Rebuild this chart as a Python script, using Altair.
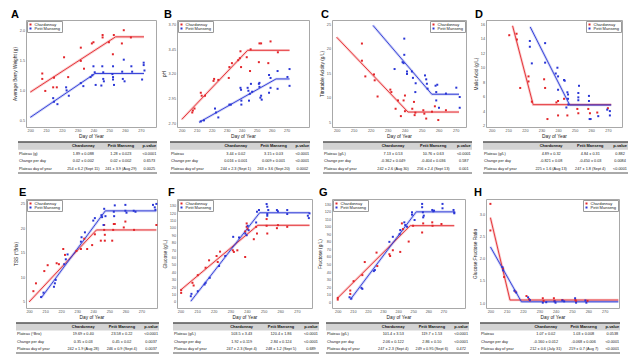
import altair as alt
import pandas as pd

FONT = "Liberation Sans"
RED = "#e3262b"
BLUE = "#2a36d6"
VARIETIES = ["Chardonnay", "Petit Manseng"]
X_TICKS = [200, 210, 220, 230, 240, 250, 260, 270]

# ---------------- Panel A: berry weight ----------------
A_ch_day = [207.6, 207.6, 209.5, 214.5, 216.8, 215.0, 221.4, 224.0, 232.0, 232.0, 234.0, 239.0, 240.0, 245.8, 245.8, 249.8, 252.3, 252.9, 258.0, 259.2, 263.7]
A_ch_val = [1.28, 1.19, 0.99, 1.05, 1.05, 1.21, 1.55, 1.22, 1.71, 1.49, 1.36, 1.78, 1.80, 1.92, 1.88, 1.80, 1.60, 1.92, 1.78, 2.00, 1.88]
A_pm_day = [214.5, 215.0, 217.2, 222.7, 223.0, 224.4, 232.0, 233.6, 238.2, 239.3, 240.0, 240.8, 241.4, 245.0, 245.6, 246.2, 246.2, 246.6, 252.0, 252.4, 252.4, 252.4, 253.0, 258.2, 258.6, 259.2, 259.7, 264.0, 264.5, 271.8, 271.8, 272.3, 270.8]
A_pm_val = [0.87, 0.81, 0.77, 1.05, 1.00, 0.91, 1.12, 1.07, 1.22, 1.25, 1.40, 1.30, 1.09, 1.08, 1.40, 1.30, 1.19, 1.15, 1.27, 1.40, 1.22, 1.18, 1.09, 1.31, 1.19, 1.51, 1.15, 1.40, 1.31, 1.46, 1.42, 1.33, 1.18]
A_ch_fit_day = [200, 254, 272]
A_ch_fit_val = [0.97, 1.89, 1.89]
A_pm_fit_day = [200, 241, 272]
A_pm_fit_val = [0.55, 1.28, 1.28]

# ---------------- Panel B: pH ----------------
B_ch_day = [207.0, 207.4, 208.5, 212.7, 213.3, 215.5, 221.2, 221.6, 224.4, 231.4, 231.8, 233.5, 237.7, 238.8, 239.2, 239.6, 243.4, 245.6, 246.0, 251.9, 253.0, 251.5, 257.8, 259.3, 264.2]
B_ch_val = [2.81, 2.83, 2.85, 3.01, 2.98, 2.98, 3.13, 3.15, 3.14, 3.16, 3.27, 3.31, 3.34, 3.36, 3.43, 3.27, 3.37, 3.23, 3.45, 3.51, 3.51, 3.32, 3.31, 3.53, 3.42]
B_pm_day = [212.7, 214.8, 222.2, 222.9, 224.4, 231.8, 232.8, 239.2, 239.6, 239.8, 239.8, 244.0, 244.5, 244.9, 246.2, 247.0, 245.5, 251.5, 251.9, 251.9, 252.5, 253.0, 253.4, 258.3, 259.3, 258.3, 259.3, 264.0, 264.0, 270.6, 272.0, 272.0]
B_pm_val = [2.72, 2.73, 2.85, 2.81, 2.76, 2.89, 2.89, 3.06, 3.04, 2.93, 2.89, 3.06, 3.03, 2.93, 3.10, 3.02, 3.00, 3.10, 3.07, 3.11, 2.96, 2.98, 2.94, 3.19, 3.16, 3.01, 3.06, 3.23, 3.05, 3.17, 3.25, 3.08]
B_ch_fit_day = [200, 244, 272]
B_ch_fit_val = [2.74, 3.44, 3.44]
B_pm_fit_day = [211.5, 263, 272]
B_pm_fit_val = [2.71, 3.15, 3.15]

# ---------------- Panel C: titratable acidity ----------------
C_ch_day = [214.9, 214.9, 216.9, 222.0, 222.4, 224.1, 231.6, 232.2, 234.7, 236.1, 237.8, 239.4, 240.2, 240.2, 244.5, 245.5, 245.9, 246.3, 251.0, 251.6, 252.7, 256.1, 257.8, 259.8, 264.3]
C_ch_val = [21.1, 17.6, 14.4, 14.8, 13.6, 10.3, 11.7, 11.2, 7.8, 9.5, 6.3, 9.5, 10.5, 7.3, 7.8, 9.2, 6.5, 7.0, 7.5, 6.8, 5.8, 7.2, 8.3, 5.5, 7.5]
C_pm_day = [239.8, 239.8, 238.8, 239.4, 234.1, 241.4, 241.4, 244.3, 244.9, 246.5, 246.3, 252.0, 252.7, 253.1, 253.5, 258.2, 259.2, 258.6, 260.2, 264.3, 270.4, 272.4, 272.4, 258.6]
C_pm_val = [22.1, 18.8, 17.3, 17.1, 15.9, 15.4, 14.9, 15.4, 14.1, 13.0, 11.2, 14.6, 13.8, 12.9, 11.9, 12.5, 12.7, 9.5, 8.0, 10.9, 12.1, 10.2, 8.0, 11.2]
C_ch_fit_day = [200, 242, 272]
C_ch_fit_val = [22.4, 7.13, 7.13]
C_pm_fit_day = [221.4, 256, 272]
C_pm_fit_val = [24.8, 10.76, 10.76]

# ---------------- Panel D: malic acid ----------------
D_ch_day = [210.6, 215.0, 215.2, 217.2, 222.2, 222.2, 224.2, 231.6, 232.2, 233.6, 239.0, 240.0, 240.0, 243.6, 245.6, 251.6, 252.2, 258.2, 259.2, 263.6, 270.0]
D_ch_val = [14.5, 14.7, 13.9, 7.2, 8.8, 8.1, 5.3, 8.4, 7.2, 2.9, 5.2, 5.4, 3.4, 5.7, 3.4, 4.3, 3.7, 4.3, 3.7, 3.8, 4.4]
D_pm_day = [223.0, 223.0, 224.2, 232.2, 232.2, 238.6, 239.6, 240.0, 240.0, 243.6, 244.0, 245.0, 245.6, 246.0, 246.0, 252.6, 252.2, 252.2, 252.2, 258.6, 258.6, 259.0, 259.6, 264.2, 269.6, 271.2, 271.2, 246.2]
D_pm_val = [13.7, 12.9, 10.6, 13.4, 10.7, 9.2, 10.0, 6.95, 8.8, 8.3, 8.2, 4.5, 6.6, 6.3, 5.7, 7.5, 6.5, 5.9, 5.5, 6.1, 5.4, 2.9, 2.9, 3.3, 4.2, 3.4, 4.0, 4.9]
D_ch_fit_day = [212.6, 225, 272]
D_ch_fit_val = [15.8, 4.89, 4.89]
D_pm_fit_day = [223.2, 247, 272]
D_pm_fit_val = [15.65, 4.84, 4.84]

# ---------------- Panel E: TSS ----------------
E_ch_day = [202.7, 204.3, 211.6, 209.5, 217.2, 218.6, 221.3, 222.4, 229.5, 232.3, 234.4, 236.2, 239.3, 241.0, 244.7, 246.8, 246.8, 247.2, 247.2, 251.8, 252.4, 252.8, 253.4, 260.0, 259.0, 265.4, 279.3]
E_ch_val = [7.2, 8.8, 12.5, 11.3, 12.9, 12.7, 15.8, 14.6, 15.4, 15.8, 17.9, 15.8, 16.6, 18.8, 17.5, 19.7, 20.7, 18.7, 17.5, 17.5, 19.7, 20.9, 20.9, 21.4, 20.2, 19.7, 20.7]
E_pm_day = [207.5, 209.0, 215.5, 216.1, 216.6, 221.9, 222.9, 224.0, 232.3, 232.7, 234.8, 240.0, 241.0, 245.1, 245.5, 246.4, 246.8, 247.6, 252.8, 253.0, 253.4, 260.0, 260.0, 260.7, 265.2, 266.3, 277.2, 278.3, 278.7, 279.3]
E_pm_val = [6.0, 6.9, 8.1, 8.8, 9.5, 12.7, 13.7, 14.7, 17.3, 18.2, 19.2, 21.6, 22.1, 22.7, 22.3, 20.7, 24.0, 22.5, 23.4, 22.5, 24.7, 24.8, 23.6, 23.2, 23.6, 23.4, 24.8, 24.3, 23.8, 25.0]
E_ch_fit_day = [200, 242, 279.3]
E_ch_fit_val = [5.0, 19.69, 19.69]
E_pm_fit_day = [207.5, 247.5, 279.3]
E_pm_fit_val = [5.8, 23.58, 23.58]

# ---------------- Panel F: glucose ----------------
F_ch_day = [200.4, 200.4, 207.2, 207.9, 210.4, 215.1, 217.2, 221.7, 222.4, 223.8, 231.5, 232.1, 234.2, 238.9, 238.9, 239.8, 239.8, 240.4, 244.1, 246.0, 245.5, 251.8, 251.8, 252.2, 258.0, 258.6, 264.2]
F_ch_val = [15.9, 12.2, 25.8, 22.2, 36.2, 46.2, 56.2, 62.0, 53.9, 67.9, 69.7, 67.5, 69.7, 60.7, 95.1, 106.0, 101.4, 98.3, 84.7, 92.4, 101.4, 102.8, 111.9, 92.4, 99.6, 103.7, 101.4]
F_pm_day = [206.2, 206.6, 210.4, 214.5, 215.1, 217.6, 223.2, 226.9, 231.7, 235.2, 239.0, 239.8, 240.4, 241.0, 245.5, 246.0, 247.2, 251.8, 252.2, 252.8, 252.2, 252.2, 258.0, 258.6, 264.2, 264.2, 276.6, 277.2, 277.6]
F_pm_val = [7.7, 10.9, 14.5, 23.6, 25.8, 32.6, 48.5, 62.0, 87.9, 87.0, 92.4, 90.1, 102.8, 96.9, 107.3, 121.8, 124.1, 132.2, 128.6, 124.1, 118.7, 116.4, 124.1, 122.3, 124.1, 118.7, 116.4, 113.2, 119.6]
F_ch_fit_day = [200, 246.5, 277.6]
F_ch_fit_val = [15.9, 103.5, 103.5]
F_pm_fit_day = [206.2, 247.6, 277.6]
F_pm_fit_val = [0.9, 120.4, 120.4]

# ---------------- Panel G: fructose ----------------
G_ch_day = [200.0, 200.0, 208.3, 208.3, 210.5, 216.3, 217.9, 225.7, 226.2, 234.2, 234.7, 236.5, 241.4, 242.5, 243.2, 247.0, 249.9, 255.9, 256.6, 262.6, 262.8, 268.7]
G_ch_val = [5.8, 3.6, 11.1, 15.6, 28.0, 36.0, 53.3, 65.8, 48.0, 63.6, 61.3, 68.9, 66.7, 104.4, 96.9, 80.4, 101.3, 92.4, 104.4, 105.8, 101.3, 103.6]
G_pm_day = [207.8, 209.0, 215.7, 216.3, 223.9, 224.6, 234.2, 236.5, 241.0, 241.4, 244.1, 244.7, 245.9, 249.2, 249.2, 250.9, 255.9, 255.9, 256.4, 257.0, 256.6, 262.6, 263.3, 263.8, 269.4, 269.4, 276.7, 277.2, 277.2]
G_pm_val = [6.7, 4.9, 19.1, 17.8, 41.3, 42.7, 80.0, 86.7, 90.2, 95.6, 105.8, 102.2, 100.0, 119.1, 116.0, 108.9, 130.2, 125.8, 119.1, 114.7, 112.4, 122.2, 120.4, 121.3, 130.2, 124.4, 122.2, 119.1, 117.8]
G_ch_fit_day = [200, 248, 277.2]
G_ch_fit_val = [5.8, 101.4, 101.4]
G_pm_fit_day = [208.3, 252, 277.2]
G_pm_fit_val = [3.6, 119.7, 119.7]

# ---------------- Panel H: glucose:fructose ratio ----------------
H_ch_day = [200.0, 200.0, 207.8, 208.4, 215.3, 222.1, 223.7, 232.1, 232.6, 238.9, 239.3, 244.1, 252.1, 252.5, 259.5, 224.2]
H_ch_val = [3.24, 2.64, 1.78, 1.59, 1.26, 1.16, 1.09, 1.11, 1.05, 1.11, 1.05, 1.07, 1.07, 1.04, 1.05, 1.06]
H_pm_day = [207.4, 207.8, 214.7, 215.8, 223.1, 224.2, 232.1, 234.2, 239.3, 239.9, 244.1, 245.2, 251.9, 252.5, 258.2, 258.8]
H_pm_val = [1.81, 1.74, 1.28, 1.24, 1.13, 1.07, 1.01, 1.02, 1.04, 1.01, 1.06, 1.04, 1.11, 1.01, 1.06, 1.01]
H_ch_fit_day = [200, 212, 278.4]
H_ch_fit_val = [2.93, 1.07, 1.07]
H_pm_fit_day = [200, 219, 278.4]
H_pm_fit_val = [2.27, 1.03, 1.03]

# ---------------- Tables ----------------
TABLE_HEADER = ["Chardonnay", "Petit Manseng", "p-value"]
ROW_LABELS_A = ["Plateau (g)", "Change per day", "Plateau day of year"]
A_ch_txt = ["1.89 ± 0.088", "0.02 ± 0.002", "254 ± 6.2 (Sept 11)"]
A_pm_txt = ["1.28 ± 0.023", "0.02 ± 0.002", "241 ± 3.9 (Aug 29)"]
A_p_txt = ["<0.0001", "0.6573", "0.0025"]
ROW_LABELS_B = ["Plateau", "Change per day", "Plateau day of year"]
B_ch_txt = ["3.44 ± 0.02", "0.016 ± 0.001", "244 ± 2.3 (Sept 1)"]
B_pm_txt = ["3.15 ± 0.03", "0.009 ± 0.001", "263 ± 3.6 (Sept 20)"]
B_p_txt = ["<0.0001", "<0.0001", "0.0002"]
ROW_LABELS_C = ["Plateau (g/L)", "Change per day", "Plateau day of year"]
C_ch_txt = ["7.13 ± 0.53", "-0.362 ± 0.049", "242 ± 2.6 (Aug 30)"]
C_pm_txt = ["10.76 ± 0.63", "-0.404 ± 0.036", "256 ± 2.4 (Sept 13)"]
C_p_txt = ["<0.0001", "0.587", "0.001"]
ROW_LABELS_D = ["Plateau (g/L)", "Change per day", "Plateau day of year"]
D_ch_txt = ["4.89 ± 0.32", "-0.821 ± 0.08", "225 ± 1.6 (Aug 13)"]
D_pm_txt = ["4.84 ± 0.31", "-0.450 ± 0.03", "247 ± 1.8 (Sept 4)"]
D_p_txt = ["0.882", "0.0084", "<0.0001"]
ROW_LABELS_E = ["Plateau (°Brix)", "Change per day", "Plateau day of year"]
E_ch_txt = ["19.69 ± 0.40", "0.35 ± 0.03", "242 ± 1.9 (Aug 28)"]
E_pm_txt = ["23.58 ± 0.22", "0.45 ± 0.02", "246 ± 0.9 (Sept 4)"]
E_p_txt = ["<0.0001", "0.0037", "0.0037"]
ROW_LABELS_F = ["Plateau (g/L)", "Change per day", "Plateau day of year"]
F_ch_txt = ["103.5 ± 3.43", "1.92 ± 0.119", "247 ± 2.3 (Sept 4)"]
F_pm_txt = ["120.4 ± 1.86", "2.84 ± 0.124", "248 ± 1.2 (Sept 5)"]
F_p_txt = ["<0.0001", "<0.0001", "0.689"]
ROW_LABELS_G = ["Plateau (g/L)", "Change per day", "Plateau day of year"]
G_ch_txt = ["101.4 ± 3.53", "2.06 ± 0.122", "247 ± 2.3 (Sept 4)"]
G_pm_txt = ["119.7 ± 1.53", "2.86 ± 0.10", "249 ± 0.95 (Sept 6)"]
G_p_txt = ["<0.0001", "<0.0001", "0.472"]
ROW_LABELS_H = ["Plateau", "Change per day", "Plateau day of year"]
H_ch_txt = ["1.07 ± 0.02", "-0.160 ± 0.012", "212 ± 0.6 (July 31)"]
H_pm_txt = ["1.03 ± 0.008", "-0.068 ± 0.006", "219 ± 0.7 (Aug 7)"]
H_p_txt = ["0.0538", "<0.0001", "<0.0001"]

# ---------------- layout (pixels) ----------------
COL_SPACING = 20
ROW_SPACING = 15
TOP_W = [130, 132, 134, 136]
BOT_W = [131, 135, 133, 133]
TOP_H, TAB1_H, BOT_H, TAB2_H = 107, 42, 109, 30
TABLE_COL_FRAC = [0.0, 0.47, 0.74, 0.945]


def plot_panel(letter, ch_day, ch_val, pm_day, pm_val, chf_day, chf_val, pmf_day, pmf_val,
               xdom, ydom, yticks, yfmt, ytitle, legend_orient, width, height, letter_dx, letter_off):
    pts = pd.DataFrame({
        "day": ch_day + pm_day,
        "val": ch_val + pm_val,
        "variety": [VARIETIES[0]] * len(ch_day) + [VARIETIES[1]] * len(pm_day),
    })
    xs = alt.Scale(domain=xdom, nice=False, zero=False)
    ys = alt.Scale(domain=ydom, nice=False, zero=False)
    xenc = alt.X("day:Q", scale=xs, axis=alt.Axis(values=X_TICKS, title="Day of Year", format="d"))
    yenc = alt.Y("val:Q", scale=ys, axis=alt.Axis(values=yticks, title=ytitle, format=yfmt))
    layers = []
    for fd, fv, col in [(chf_day, chf_val, RED), (pmf_day, pmf_val, BLUE)]:
        df = pd.DataFrame({"day": fd, "val": fv})
        layers.append(alt.Chart(df).mark_line(color=col, strokeWidth=2.6, opacity=0.22).encode(x=xenc, y=yenc))
        layers.append(alt.Chart(df).mark_line(color=col, strokeWidth=1.0, opacity=0.9).encode(x=xenc, y=yenc))
    points = alt.Chart(pts).mark_point(shape="square", filled=True, size=4, opacity=1).encode(
        x=xenc, y=yenc,
        color=alt.Color("variety:N", scale=alt.Scale(domain=VARIETIES, range=[RED, BLUE]),
                        legend=alt.Legend(title=None, orient=legend_orient, offset=1, padding=1.5,
                                          fillColor="white", strokeColor="#9a9a9a",
                                          labelFontSize=4, labelFont=FONT, labelColor="#222",
                                          symbolType="square", symbolSize=4, symbolStrokeWidth=0,
                                          rowPadding=0, labelOffset=2)),
    )
    layers.append(points)
    return alt.layer(*layers).properties(
        width=width, height=height,
        view=alt.ViewBackground(stroke="#a8a8a8", strokeWidth=1),
        title=alt.TitleParams(letter, anchor="start", frame="group", fontSize=11, fontWeight="bold",
                              font=FONT, color="black", dx=letter_dx, offset=letter_off),
    )


def table_panel(labels, ch_txt, pm_txt, p_txt, xrange, width, height, yrange):
    xs = alt.Scale(domain=[0, 1], range=xrange)
    ys = alt.Scale(domain=[-0.5, 3.5], range=yrange)
    band = pd.DataFrame({"x0": [0], "x1": [1], "y0": [-0.5], "y1": [0.5]})
    lines = pd.DataFrame({"x0": [0, 0], "x1": [1, 1], "y0": [-0.5, 3.5], "w": [1.3, 1.0]})
    head = pd.DataFrame({"x": TABLE_COL_FRAC[1:], "row": [0, 0, 0], "text": TABLE_HEADER})
    lab = pd.DataFrame({"x": [TABLE_COL_FRAC[0]] * 3, "row": [1, 2, 3], "text": labels})
    vals = pd.DataFrame({
        "x": [TABLE_COL_FRAC[1]] * 3 + [TABLE_COL_FRAC[2]] * 3 + [TABLE_COL_FRAC[3]] * 3,
        "row": [1, 2, 3] * 3,
        "text": ch_txt + pm_txt + p_txt,
    })
    rect = alt.Chart(band).mark_rect(color="#d3d3d3").encode(
        x=alt.X("x0:Q", scale=xs, axis=None), x2="x1:Q",
        y=alt.Y("y0:Q", scale=ys, axis=None), y2="y1:Q")
    rules = alt.Chart(lines).mark_rule(color="#555555").encode(
        x=alt.X("x0:Q", scale=xs, axis=None), x2="x1:Q",
        y=alt.Y("y0:Q", scale=ys, axis=None),
        strokeWidth=alt.StrokeWidth("w:Q", scale=None, legend=None))
    htxt = alt.Chart(head).mark_text(fontSize=3.9, fontWeight="bold", font=FONT, color="#111",
                                     align="center", baseline="middle").encode(
        x=alt.X("x:Q", scale=xs, axis=None), y=alt.Y("row:Q", scale=ys, axis=None), text="text:N")
    ltxt = alt.Chart(lab).mark_text(fontSize=3.8, font=FONT, color="#222", align="left",
                                    baseline="middle", dx=1).encode(
        x=alt.X("x:Q", scale=xs, axis=None), y=alt.Y("row:Q", scale=ys, axis=None), text="text:N")
    vtxt = alt.Chart(vals).mark_text(fontSize=3.8, font=FONT, color="#222", align="center",
                                     baseline="middle").encode(
        x=alt.X("x:Q", scale=xs, axis=None), y=alt.Y("row:Q", scale=ys, axis=None), text="text:N")
    return alt.layer(rect, rules, htxt, ltxt, vtxt).properties(width=width, height=height)


pA = plot_panel("A", A_ch_day, A_ch_val, A_pm_day, A_pm_val, A_ch_fit_day, A_ch_fit_val, A_pm_fit_day, A_pm_fit_val,
                [197.3, 279.6], [0.39, 2.17], [0.5, 1.0, 1.5, 2.0], ".1f", "Average Berry Weight (g)",
                "top-left", TOP_W[0], TOP_H, -15, 0)
pB = plot_panel("B", B_ch_day, B_ch_val, B_pm_day, B_pm_val, B_ch_fit_day, B_ch_fit_val, B_pm_fit_day, B_pm_fit_val,
                [196.8, 285.0], [2.663, 3.747], [2.70, 2.95, 3.20, 3.45, 3.70], ".2f", "pH",
                "top-left", TOP_W[1], TOP_H, -13, 0)
pC = plot_panel("C", C_ch_day, C_ch_val, C_pm_day, C_pm_val, C_ch_fit_day, C_ch_fit_val, C_pm_fit_day, C_pm_fit_val,
                [197.3, 276.1], [4.08, 25.9], [5, 10, 15, 20, 25], "d", "Titratable Acidity (g/L)",
                "top-right", TOP_W[2], TOP_H, -11, 0)
pD = plot_panel("D", D_ch_day, D_ch_val, D_pm_day, D_pm_val, D_ch_fit_day, D_ch_fit_val, D_pm_fit_day, D_pm_fit_val,
                [196.6, 278.5], [1.8, 16.6], [2, 4, 6, 8, 10, 12, 14, 16], "d", "Malic Acid (g/L)",
                "top-right", TOP_W[3], TOP_H, -11, 0)
pE = plot_panel("E", E_ch_day, E_ch_val, E_pm_day, E_pm_val, E_ch_fit_day, E_ch_fit_val, E_pm_fit_day, E_pm_fit_val,
                [198.1, 279.7], [3.77, 26.0], [5, 10, 15, 20, 25], "d", "TSS (°Brix)",
                "top-left", BOT_W[0], BOT_H, -7, 1)
pF = plot_panel("F", F_ch_day, F_ch_val, F_pm_day, F_pm_val, F_ch_fit_day, F_ch_fit_val, F_pm_fit_day, F_pm_fit_val,
                [197.9, 279.1], [-8.2, 139.0], list(range(0, 131, 10)), "d", "Glucose (g/L)",
                "top-left", BOT_W[1], BOT_H, -9, 1)
pG = plot_panel("G", G_ch_day, G_ch_val, G_pm_day, G_pm_val, G_ch_fit_day, G_ch_fit_val, G_pm_fit_day, G_pm_fit_val,
                [196.2, 284.3], [-7.5, 136.7], list(range(0, 131, 10)), "d", "Fructose (g/L)",
                "top-left", BOT_W[2], BOT_H, -13, 1)
pH = plot_panel("H", H_ch_day, H_ch_val, H_pm_day, H_pm_val, H_ch_fit_day, H_ch_fit_val, H_pm_fit_day, H_pm_fit_val,
                [197.3, 278.8], [0.89, 3.35], [1.0, 1.5, 2.0, 2.5, 3.0], ".1f", "Glucose:Fructose Ratio",
                "top-right", BOT_W[3], BOT_H, -12, 1)

tA = table_panel(ROW_LABELS_A, A_ch_txt, A_pm_txt, A_p_txt, [-8, 131], TOP_W[0], TAB1_H, [0, 31])
tB = table_panel(ROW_LABELS_B, B_ch_txt, B_pm_txt, B_p_txt, [-7, 133], TOP_W[1], TAB1_H, [0, 31])
tC = table_panel(ROW_LABELS_C, C_ch_txt, C_pm_txt, C_p_txt, [-9, 140], TOP_W[2], TAB1_H, [0, 31])
tD = table_panel(ROW_LABELS_D, D_ch_txt, D_pm_txt, D_p_txt, [-3, 142], TOP_W[3], TAB1_H, [0, 31])
tE = table_panel(ROW_LABELS_E, E_ch_txt, E_pm_txt, E_p_txt, [-10, 133], BOT_W[0], TAB2_H, [0, 30])
tF = table_panel(ROW_LABELS_F, F_ch_txt, F_pm_txt, F_p_txt, [-4, 142], BOT_W[1], TAB2_H, [0, 30])
tG = table_panel(ROW_LABELS_G, G_ch_txt, G_pm_txt, G_p_txt, [-6, 137], BOT_W[2], TAB2_H, [0, 30])
tH = table_panel(ROW_LABELS_H, H_ch_txt, H_pm_txt, H_p_txt, [-6, 134], BOT_W[3], TAB2_H, [0, 30])

chart = alt.concat(
    pA, pB, pC, pD,
    tA, tB, tC, tD,
    pE, pF, pG, pH,
    tE, tF, tG, tH,
    columns=4,
    spacing={"row": ROW_SPACING, "column": COL_SPACING},
    align={"row": "each", "column": "none"},
    bounds="flush",
).resolve_scale(
    x="independent", y="independent", color="independent"
).resolve_legend(
    color="independent"
).properties(
    padding={"left": 2, "top": 0, "right": 0, "bottom": 0},
    background="white",
).configure_view(
    stroke="transparent"
).configure_axis(
    labelFont=FONT, titleFont=FONT, labelFontSize=3.8, titleFontSize=4.8,
    labelColor="#555555", titleColor="#222222", titleFontWeight="normal",
    grid=False, domain=False, ticks=False, labelPadding=1.5, titlePadding=1.5,
)

chart.save("out.html", embed_options={"renderer": "svg", "actions": False})
